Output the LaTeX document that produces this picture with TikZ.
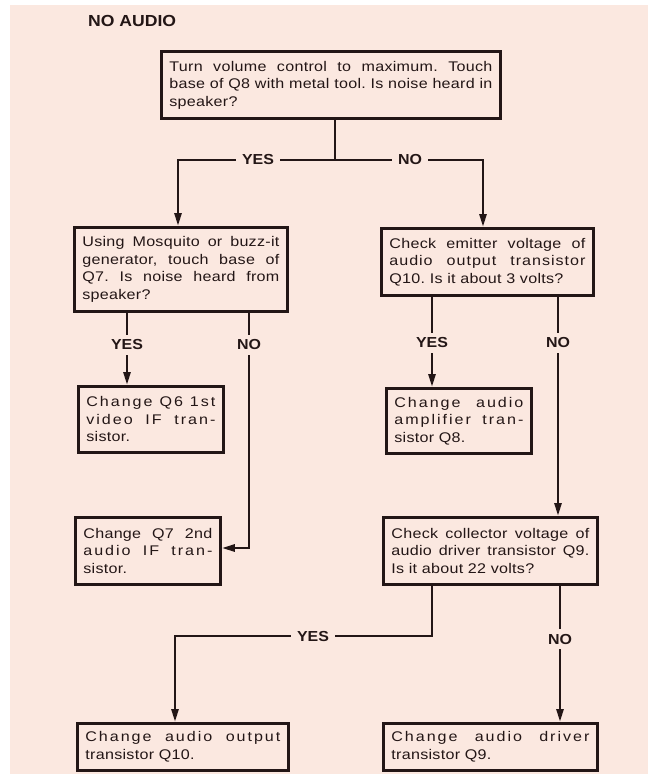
\documentclass[tikz,border=0pt]{standalone}
\usepackage{fontspec}
\usepackage{graphicx}
\usetikzlibrary{arrows.meta}
\newfontfamily\boxfont[FakeStretch=1.15,LetterSpace=2]{Liberation Sans}
\newfontfamily\boxwide[FakeStretch=1.15,LetterSpace=14]{Liberation Sans}
\newfontfamily\boxmid[FakeStretch=1.15,LetterSpace=7]{Liberation Sans}
\newfontfamily\labfont[FakeStretch=1.1]{Liberation Sans Bold}
\frenchspacing
\definecolor{ink}{RGB}{35,22,22}
\definecolor{bg}{RGB}{251,232,224}
\newlength\boxtextw
\newcommand\fillline[1]{\makebox[\boxtextw][s]{\spaceskip=0.3333em plus 10em\xspaceskip=0.3333em plus 10em #1}}
\newcommand\spreadline[1]{\makebox[\boxtextw][s]{\boxwide\spaceskip=0.3333em plus 10em\xspaceskip=0.3333em plus 10em #1}}
\newcommand\midline[1]{\makebox[\boxtextw][s]{\boxmid\spaceskip=0.3333em plus 10em\xspaceskip=0.3333em plus 10em #1}}
\newcommand\flowbox[6]{%
  \pgfmathsetmacro\bxw{#4-#2}\pgfmathsetmacro\bxh{#5-#3}\pgfmathsetmacro\bxt{#4-#2-16}%
  \setlength\boxtextw{\bxt pt}%
  \node[box, minimum width=\bxw pt, minimum height=\bxh pt, text width=\bxt pt] (#1) at (#2,#3) {#6};}
\tikzset{
  box/.style={draw=ink, line width=2.8pt, fill=bg, anchor=north west, inner xsep=8pt, inner ysep=0pt,
    text=ink, align=left, font=\boxfont\fontsize{14}{17.5}\selectfont},
  lab/.style={font=\labfont\fontsize{14.5}{16}\selectfont, text=ink, inner xsep=6pt, inner ysep=5pt},
  conn/.style={draw=ink, line width=2.6pt},
  arr/.style={conn, -{Triangle[length=13pt,width=7pt]}}
}
\begin{document}
\begin{tikzpicture}[x=1pt,y=-1pt]
\useasboundingbox (0,0) rectangle (658,774);
\fill[white] (0,0) rectangle (658,774);
\fill[bg] (10,5) rectangle (648,774);

\node[anchor=base west, font=\labfont\fontsize{16}{18}\selectfont, text=ink, inner sep=0pt] (title) at (88,26) {NO AUDIO};

\flowbox{T}{160}{50}{499}{117}{\fillline{Turn volume control to maximum. Touch}\\ \fillline{base of Q8 with metal tool. Is noise heard in}\\ speaker?}
\flowbox{L1}{73}{226}{286}{310}{\fillline{Using Mosquito or buzz-it}\\ \fillline{generator, touch base of}\\ \fillline{Q7. Is noise heard from}\\ speaker?}
\flowbox{R1}{380}{227}{592}{294}{\fillline{Check emitter voltage of}\\ \midline{audio output transistor}\\ Q10. Is it about 3 volts?}
\flowbox{Q6}{77}{385}{222}{451}{\spreadline{Change Q6 1st}\\ \spreadline{video IF tran-}\\ sistor.}
\flowbox{Q8}{385}{387}{530}{452}{\spreadline{Change audio}\\ \spreadline{amplifier tran-}\\ sistor Q8.}
\flowbox{Q7}{74}{516}{219}{583}{\fillline{Change Q7 2nd}\\ \spreadline{audio IF tran-}\\ sistor.}
\flowbox{C}{382}{516}{596}{583}{\fillline{Check collector voltage of}\\ \fillline{audio driver transistor Q9.}\\ Is it about 22 volts?}
\flowbox{Q10}{76}{722}{287}{769}{\spreadline{Change audio output}\\ transistor Q10.}
\flowbox{Q9}{382}{722}{596}{769}{\spreadline{Change audio driver}\\ transistor Q9.}

% top junction
\coordinate (j) at (335,160);
\coordinate (jl) at (178,160);
\coordinate (jr) at (483,160);
\node[lab] (y0) at (258,160) {YES};
\node[lab] (n0) at (410,160) {NO};
\draw[conn] (j |- T.south) -- (j);
\draw[conn] (j) -- (y0.east);
\draw[conn] (j) -- (n0.west);
\draw[arr] (y0.west) -- (jl) -- (jl |- L1.north);
\draw[arr] (n0.east) -- (jr) -- (jr |- R1.north);

% left branch
\node[lab] (y1) at (127,345) {YES};
\node[lab] (n1) at (249,345) {NO};
\draw[conn] (y1 |- L1.south) -- (y1.north);
\draw[arr] (y1.south) -- (y1 |- Q6.north);
\draw[conn] (n1 |- L1.south) -- (n1.north);
\coordinate (nk) at (249,548);
\draw[arr] (n1.south) -- (nk) -- (nk -| Q7.east);

% right branch
\node[lab] (y2) at (432,343) {YES};
\node[lab] (n2) at (558,343) {NO};
\draw[conn] (y2 |- R1.south) -- (y2.north);
\draw[arr] (y2.south) -- (y2 |- Q8.north);
\draw[conn] (n2 |- R1.south) -- (n2.north);
\draw[arr] (n2.south) -- (n2 |- C.north);

% bottom branch
\coordinate (ck) at (432,636);
\coordinate (bk) at (175,636);
\node[lab] (y3) at (313,636) {YES};
\node[lab] (n3) at (560,639) {NO};
\draw[conn] (ck |- C.south) -- (ck) -- (y3.east);
\draw[arr] (y3.west) -- (bk) -- (bk |- Q10.north);
\draw[conn] (n3 |- C.south) -- (n3.north);
\draw[arr] (n3.south) -- (n3 |- Q9.north);
\end{tikzpicture}
\end{document}
